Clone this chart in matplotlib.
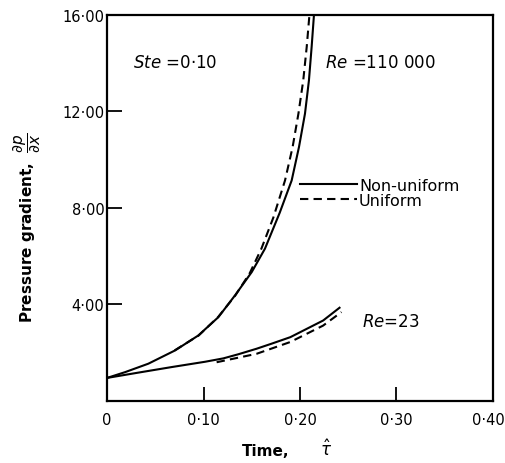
import matplotlib
matplotlib.use("Agg")
import matplotlib.pyplot as plt
import matplotlib.transforms as mtransforms

plt.rcParams['font.family'] = ['DejaVu Sans']
plt.rcParams['mathtext.fontset'] = 'dejavusans'

# Re = 110 000
t_hi_nonuni = [0, 0.0187, 0.0428, 0.0705, 0.0946, 0.1154, 0.1326, 0.15, 0.1637, 0.179,
               0.1914, 0.199, 0.2052, 0.2093, 0.2121, 0.2145]
p_hi_nonuni = [0.95, 1.19, 1.54, 2.09, 2.71, 3.47, 4.37, 5.34, 6.31, 7.8,
               9.14, 10.53, 11.91, 13.29, 14.68, 16.0]
t_hi_uni = [0.07, 0.095, 0.115, 0.133, 0.148, 0.160, 0.1724, 0.1845, 0.1924, 0.1984,
            0.2034, 0.207, 0.2098]
p_hi_uni = [2.09, 2.71, 3.47, 4.37, 5.3, 6.31, 7.6, 9.14, 10.53, 11.91,
            13.29, 14.68, 16.0]

# Re = 23
t_lo_nonuni = [0, 0.0325, 0.067, 0.1016, 0.1205, 0.136, 0.155, 0.1706, 0.19, 0.224, 0.241]
p_lo_nonuni = [0.95, 1.17, 1.40, 1.62, 1.76, 1.93, 2.16, 2.37, 2.64, 3.33, 3.86]
t_lo_uni = [0.1136, 0.155, 0.19, 0.224, 0.243]
p_lo_uni = [1.6, 1.95, 2.44, 3.12, 3.68]

x_ticks = [0, 0.10, 0.20, 0.30, 0.40]
x_labels = ['0', '0·10', '0·20', '0·30', '0·40']
y_ticks = [4, 8, 12, 16]
y_labels = ['4·00', '8·00', '12·00', '16·00']

fig = plt.figure(figsize=(5.05, 4.64), dpi=100)
ax = fig.add_axes([0.212, 0.134, 0.764, 0.8315])

lw = 1.5
dash = (4, 2.5)
ax.plot(t_hi_nonuni, p_hi_nonuni, '-', color='black', lw=lw, label='Non-uniform')
ax.plot(t_hi_uni, p_hi_uni, '--', color='black', lw=lw, dashes=dash, label='Uniform')
ax.plot(t_lo_nonuni, p_lo_nonuni, '-', color='black', lw=lw)
ax.plot(t_lo_uni, p_lo_uni, '--', color='black', lw=lw, dashes=dash)

ax.set_xlim(0, 0.40)
ax.set_ylim(0, 16)
ax.set_xticks(x_ticks)
ax.set_xticklabels(x_labels, fontsize=10.5)
ax.set_yticks(y_ticks)
ax.set_yticklabels(y_labels, fontsize=10.5)
ax.tick_params(axis='x', direction='in', length=10, width=1.3, pad=8)
ax.tick_params(axis='y', direction='in', length=11, width=1.3, pad=2)
for s in ax.spines.values():
    s.set_linewidth(1.6)

# last x label sits right at the figure edge, nudge it left a bit
last = ax.get_xticklabels()[-1]
last.set_transform(last.get_transform() + mtransforms.ScaledTranslation(-5 / 100, 0, fig.dpi_scale_trans))

ax.text(0.027, 14.05, r'$\mathit{Ste}$ =0·10', fontsize=12, va='center')
ax.text(0.226, 14.05, r'$\mathit{Re}$ =110 000', fontsize=12, va='center')
ax.text(0.264, 3.3, r'$\mathit{Re}$=23', fontsize=12, va='center')

ax.legend(loc='upper left', bbox_to_anchor=(0.5, 0.578), frameon=False,
          fontsize=11.5, handlelength=3.6, handletextpad=0.1,
          labelspacing=0.0, borderpad=0, borderaxespad=0)

fig.text(266 / 505, 1 - 452 / 464, 'Time,', fontsize=11, weight='bold', ha='center', va='center')
fig.text(326 / 505, 1 - 450 / 464, r'$\hat{\tau}$', fontsize=12, ha='center', va='center')
fig.text(27 / 505, 1 - 228 / 464, r'Pressure gradient,  $\dfrac{\partial p}{\partial x}$',
         fontsize=11, weight='bold', rotation=90, ha='center', va='center')

fig.savefig('out.png', dpi=100)
